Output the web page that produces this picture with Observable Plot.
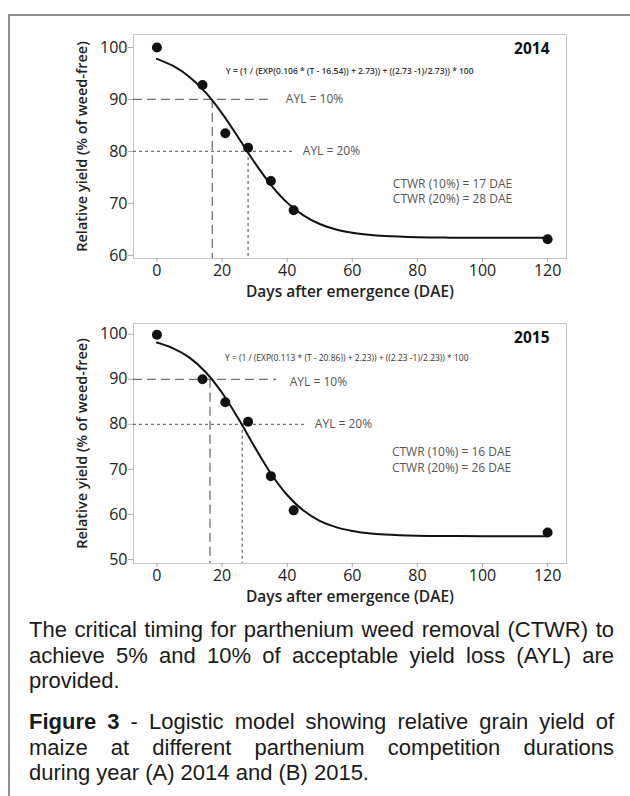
<!DOCTYPE html>
<html>
<head>
<meta charset="utf-8">
<script src="https://cdn.jsdelivr.net/npm/d3@7"></script>
<script src="https://cdn.jsdelivr.net/npm/@observablehq/plot@0.6"></script>
<style>
  html, body { margin: 0; padding: 0; background: #fff; }
  #page { position: relative; width: 630px; height: 796px; overflow: hidden; background: #fff; }
  #frameTop { position: absolute; left: 8px; top: 14px; width: 622px; height: 0; border-top: 2px solid #8f8f8f; }
  #frameLeft { position: absolute; left: 8px; top: 14px; width: 0; height: 782px; border-left: 2px solid #8f8f8f; }
  .panel { position: absolute; left: 0; }
  .panel svg { display: block; }
  .cap { position: absolute; left: 29px; width: 585px; font-family: "Liberation Sans", Arial, sans-serif; font-size: 22px; line-height: 25.5px; color: #1a1a1a; }
  .cap .ln { text-align: justify; text-align-last: justify; white-space: nowrap; }
  .cap .ln.last { text-align-last: left; }
</style>
</head>
<body>
<div id="page">
  <div id="frameTop"></div>
  <div id="frameLeft"></div>
  <div id="p2014" class="panel" style="top:0px"></div>
  <div id="p2015" class="panel" style="top:290px"></div>
  <div class="cap" style="top:617px">
    <div class="ln">The critical timing for parthenium weed removal (CTWR) to</div>
    <div class="ln">achieve 5% and 10% of acceptable yield loss (AYL) are</div>
    <div class="ln last">provided.</div>
  </div>
  <div class="cap" style="top:709px">
    <div class="ln"><b>Figure 3</b> - Logistic model showing relative grain yield of</div>
    <div class="ln">maize at different parthenium competition durations</div>
    <div class="ln last">during year (A) 2014 and (B) 2015.</div>
  </div>
</div>
<script>
// ---- data ----
const fitDays = [0, 5, 10, 15, 20, 25, 30, 35, 40, 45, 50, 55, 60, 65, 70, 80, 90, 100, 110, 120];
const fit2014 = [97.82, 96.44, 94.33, 91.31, 87.33, 82.67, 77.87, 73.57, 70.15, 67.69, 66.04, 64.99, 64.34, 63.95, 63.71, 63.49, 63.41, 63.38, 63.38, 63.37];
const fit2015 = [98.17, 96.88, 94.82, 91.58, 87.03, 81.29, 75.00, 69.10, 64.31, 60.86, 58.59, 57.17, 56.33, 55.83, 55.54, 55.28, 55.20, 55.17, 55.16, 55.16];

const obsDays = [0, 14, 21, 28, 35, 42, 120];
const obs2014 = [100, 92.8, 83.5, 80.7, 74.3, 68.7, 63.1];
const obs2015 = [99.9, 90.0, 84.9, 80.6, 68.5, 60.9, 56.0];

const xTicks = [0, 20, 40, 60, 80, 100, 120];
const yTicks2014 = [60, 70, 80, 90, 100];
const yTicks2015 = [50, 60, 70, 80, 90, 100];

const aylLevels = [90, 80];            // relative yield thresholds (AYL 10%, 20%)
const aylLabels = ["AYL = 10%", "AYL = 20%"];
const aylLineEnd2014 = [34.7, 42.5];
const aylLineEnd2015 = [36.8, 46.0];
const aylLabelX2014 = [39.6, 44.8];
const aylLabelY2014 = [90, 80];
const aylLabelX2015 = [40.8, 48.5];
const aylLabelY2015 = [89.3, 80];
const ctwr2014 = [17, 28];
const ctwr2015 = [16.3, 26.2];

const eq2014 = "Y = (1 / (EXP(0.106 * (T - 16.54)) + 2.73)) + ((2.73 -1)/2.73)) * 100";
const eq2015 = "Y = (1 / (EXP(0.113 * (T - 20.86)) + 2.23)) + ((2.23 -1)/2.23)) * 100";
const ctwrText2014 = ["CTWR (10%) = 17 DAE", "CTWR (20%) = 28 DAE"];
const ctwrText2015 = ["CTWR (10%) = 16 DAE", "CTWR (20%) = 26 DAE"];

const xLabel = "Days after emergence (DAE)";
const yLabel = "Relative yield (% of weed-free)";

function panel(cfg) {
  const fit = fitDays.map((d, i) => ({x: d, y: cfg.fit[i]}));
  const obs = obsDays.map((d, i) => ({x: d, y: cfg.obs[i]}));
  const xMin = -7.2, xMax = 125.8;
  const dashes = ["9,5", "3,3"];
  const ruleMarks = [];
  aylLevels.forEach((lv, i) => {
    ruleMarks.push(Plot.ruleY([lv], {x1: xMin, x2: cfg.lineEnd[i], stroke: "#707070", strokeWidth: 1.3, strokeDasharray: dashes[i]}));
    ruleMarks.push(Plot.ruleX([cfg.ctwr[i]], {y1: lv, y2: cfg.yDomain[0], stroke: "#707070", strokeWidth: 1.3, strokeDasharray: dashes[i]}));
  });
  const aylTxt = aylLabels.map((t, i) => ({x: cfg.labX[i], y: cfg.labY[i], t}));
  const ctTxt = cfg.ctText.map((t, i) => ({x: cfg.ctX, y: cfg.ctY[i], t}));
  return Plot.plot({
    width: 630,
    height: cfg.height,
    marginLeft: 133,
    marginRight: 64,
    marginTop: cfg.marginTop,
    marginBottom: 52,
    style: {fontFamily: "Open Sans, sans-serif", fontSize: "16px", color: "#222", background: "transparent", overflow: "visible"},
    x: {domain: [xMin, xMax]},
    y: {domain: cfg.yDomain},
    marks: [
      Plot.frame({stroke: "#c4c4c4"}),
      Plot.axisX({ticks: xTicks, tickSize: 4, tickPadding: 2, fontSize: 16, stroke: "#aaa", label: null}),
      Plot.axisY({ticks: cfg.yTicks, tickSize: 5, tickPadding: 1, fontSize: 16, stroke: "#aaa", label: null}),
      Plot.text([xLabel], {text: d => d, frameAnchor: "bottom", dy: 34, fontSize: 15.5, fontWeight: 600, fill: "#222", lineAnchor: "middle"}),
      Plot.text([yLabel], {text: d => d, frameAnchor: "left", dx: -51, rotate: -90, textAnchor: "middle", lineAnchor: "middle", fontSize: 14.5, fontWeight: 600, fill: "#222"}),
      ...ruleMarks,
      Plot.line(fit, {x: "x", y: "y", curve: "catmull-rom", stroke: "#111", strokeWidth: 2}),
      Plot.dot(obs, {x: "x", y: "y", r: 5, fill: "#111", stroke: "none"}),
      Plot.text([cfg.eq], {text: d => d, x: cfg.eqX, y: cfg.eqY, fontSize: 8.5, fontWeight: cfg.eqWeight, fill: "#333"}),
      Plot.text(aylTxt, {x: "x", y: "y", text: "t", textAnchor: "start", fontSize: 12, fill: "#555"}),
      Plot.text(ctTxt, {x: "x", y: "y", text: "t", fontSize: 12, fill: "#555"}),
      Plot.text([cfg.year], {text: d => d, x: 120.6, y: cfg.yearY, textAnchor: "end", fontSize: 15.5, fontWeight: 700, fill: "#111"})
    ]
  });
}

document.getElementById("p2014").append(panel({
  height: 310, marginTop: 34, yDomain: [59.4, 102.5], yTicks: yTicks2014,
  fit: fit2014, obs: obs2014, lineEnd: aylLineEnd2014, ctwr: ctwr2014,
  labX: aylLabelX2014, labY: aylLabelY2014,
  ctText: ctwrText2014, ctX: 90.8, ctY: [73.8, 70.8],
  eq: eq2014, eqX: 59.2, eqY: 95.4, eqWeight: 600,
  year: "2014", yearY: 99.8
}));

document.getElementById("p2015").append(panel({
  height: 325, marginTop: 33, yDomain: [49.1, 102.4], yTicks: yTicks2015,
  fit: fit2015, obs: obs2015, lineEnd: aylLineEnd2015, ctwr: ctwr2015,
  labX: aylLabelX2015, labY: aylLabelY2015,
  ctText: ctwrText2015, ctX: 90.5, ctY: [73.9, 70.3],
  eq: eq2015, eqX: 58.3, eqY: 94.7, eqWeight: 400,
  year: "2015", yearY: 99.1
}));
</script>
</body>
</html>
